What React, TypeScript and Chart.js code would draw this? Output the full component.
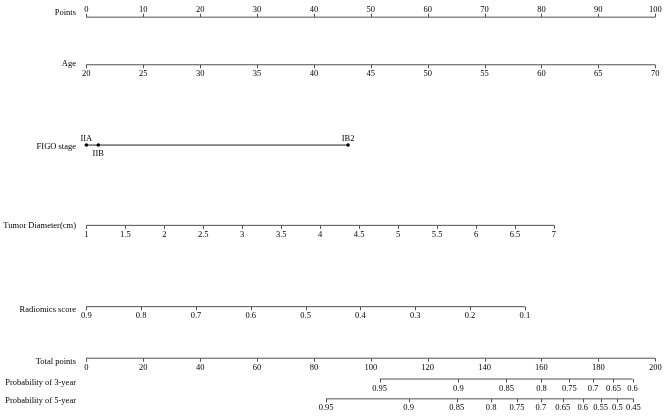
import React, { useEffect, useRef } from "react";
import { Chart, registerables } from "chart.js";

Chart.register(...registerables);

// ---------- data ----------
const pointsTicks = ["0", "10", "20", "30", "40", "50", "60", "70", "80", "90", "100"];
const pointsValues = [0, 10, 20, 30, 40, 50, 60, 70, 80, 90, 100];

const ageTicks = ["20", "25", "30", "35", "40", "45", "50", "55", "60", "65", "70"];
const agePoints = [0, 10, 20, 30, 40, 50, 60, 70, 80, 90, 100];

const figoCategories = ["IIA", "IIB", "IB2"];
const figoPoints = [0, 2.1, 46.0];

const tumorTicks = ["1", "1.5", "2", "2.5", "3", "3.5", "4", "4.5", "5", "5.5", "6", "6.5", "7"];
const tumorPoints = [0, 6.85, 13.7, 20.55, 27.4, 34.25, 41.1, 47.95, 54.8, 61.65, 68.5, 75.35, 82.2];

const radiomicsTicks = ["0.9", "0.8", "0.7", "0.6", "0.5", "0.4", "0.3", "0.2", "0.1"];
const radiomicsPoints = [0, 9.63, 19.27, 28.9, 38.54, 48.17, 57.81, 67.44, 77.08];

const totalTicks = ["0", "20", "40", "60", "80", "100", "120", "140", "160", "180", "200"];
const totalValues = [0, 20, 40, 60, 80, 100, 120, 140, 160, 180, 200];

const prob3Ticks = ["0.95", "0.9", "0.85", "0.8", "0.75", "0.7", "0.65", "0.6"];
const prob3Total = [103.1, 130.8, 147.7, 160.0, 169.8, 178.1, 185.3, 192.0];

const prob5Ticks = ["0.95", "0.9", "0.85", "0.8", "0.75", "0.7", "0.65", "0.6", "0.55", "0.5", "0.45"];
const prob5Total = [84.3, 113.3, 130.2, 142.3, 151.4, 159.8, 167.5, 174.5, 180.8, 186.7, 192.3];

// ---------- layout ----------
const W = 668;
const H = 419;
const FONT = '8.5px "Liberation Serif", "Times New Roman", serif';
const LINE_COLOR = "#505050";
const TITLE_X = 76;

type Row = {
  title: string;
  y: number;
  axis: "x" | "xt";
  values: number[];
  labels: string[];
  side: "above" | "below" | ("above" | "below")[];
  ticks: boolean;
  dots?: boolean;
  titleDy: number;
  color?: string;
};

const rows: Row[] = [
  { title: "Points", y: 15.5, axis: "x", values: pointsValues, labels: pointsTicks, side: "above", ticks: true, titleDy: -2.5 },
  { title: "Age", y: 63.5, axis: "x", values: agePoints, labels: ageTicks, side: "below", ticks: true, titleDy: 0 },
  { title: "FIGO stage", y: 144.5, axis: "x", values: figoPoints, labels: figoCategories, side: ["above", "below", "above"], ticks: false, dots: true, titleDy: 2.5, color: "#222" },
  { title: "Tumor Diameter(cm)", y: 225.5, axis: "x", values: tumorPoints, labels: tumorTicks, side: "below", ticks: true, titleDy: 0.5 },
  { title: "Radiomics score", y: 307.5, axis: "x", values: radiomicsPoints, labels: radiomicsTicks, side: "below", ticks: true, titleDy: 2.5 },
  { title: "Total points", y: 359.5, axis: "xt", values: totalValues, labels: totalTicks, side: "below", ticks: true, titleDy: 2 },
  { title: "Probability of 3-year", y: 380.5, axis: "xt", values: prob3Total, labels: prob3Ticks, side: "below", ticks: true, titleDy: 2 },
  { title: "Probability of 5-year", y: 400.5, axis: "xt", values: prob5Total, labels: prob5Ticks, side: "below", ticks: true, titleDy: 0 },
];

// Points 0 -> px 85, Points 100 -> px 657
const PX0 = 85;
const PX100 = 657;
const range = (100 * W) / (PX100 - PX0);
const xMin = (-PX0 * range) / W;
const xMax = xMin + range;

const nomogramPlugin = {
  id: "nomogramAxes",
  afterDatasetsDraw(chart: any) {
    const ctx = chart.ctx as CanvasRenderingContext2D;
    ctx.save();
    ctx.font = FONT;
    chart.data.datasets.forEach((ds: any, i: number) => {
      const meta = chart.getDatasetMeta(i);
      const row: Row = ds.row;
      meta.data.forEach((el: any, j: number) => {
        const x = el.x;
        const y = el.y;
        const side = Array.isArray(row.side) ? row.side[j] : row.side;
        if (row.ticks) {
          ctx.strokeStyle = LINE_COLOR;
          ctx.lineWidth = 1;
          ctx.beginPath();
          const xx = Math.round(x) + 0.5;
          ctx.moveTo(xx, y);
          ctx.lineTo(xx, side === "above" ? y - 3.5 : y + 3.5);
          ctx.stroke();
        }
        ctx.fillStyle = "#000";
        ctx.textAlign = "center";
        ctx.textBaseline = "alphabetic";
        let ty: number;
        if (row.dots) ty = side === "above" ? y - 4 : y + 10.5;
        else ty = side === "above" ? y - 5 : y + 11.5;
        ctx.fillText(row.labels[j], x, ty);
      });
      ctx.fillStyle = "#000";
      ctx.textAlign = "right";
      ctx.textBaseline = "middle";
      ctx.fillText(row.title, TITLE_X, row.y + row.titleDy);
    });
    ctx.restore();
  },
};

export default function App() {
  const canvasRef = useRef<HTMLCanvasElement | null>(null);

  useEffect(() => {
    document.body.style.margin = "0";
    const canvas = canvasRef.current;
    if (!canvas) return;
    const datasets = rows.map((row) => ({
      label: row.title,
      row,
      data: row.values.map((v) => ({ x: v, y: row.y })),
      xAxisID: row.axis,
      yAxisID: "y",
      borderColor: row.color || LINE_COLOR,
      borderWidth: 1,
      pointRadius: row.dots ? 1.8 : 0,
      pointBackgroundColor: "#000",
      pointBorderColor: "#000",
      pointBorderWidth: 0,
      pointHoverRadius: 0,
      tension: 0,
      fill: false,
    }));
    const chart = new Chart(canvas, {
      type: "line",
      data: { datasets: datasets as any },
      options: {
        animation: false,
        responsive: false,
        maintainAspectRatio: false,
        layout: { padding: 0 },
        events: [],
        plugins: { legend: { display: false }, tooltip: { enabled: false } },
        scales: {
          x: { type: "linear", min: xMin, max: xMax, display: false },
          xt: { type: "linear", min: xMin * 2, max: xMax * 2, display: false },
          y: { type: "linear", min: 0, max: H, reverse: true, display: false },
        },
      },
      plugins: [nomogramPlugin],
    });
    return () => chart.destroy();
  }, []);

  return (
    <div style={{ width: W, height: H, background: "#fff" }}>
      <canvas ref={canvasRef} width={W} height={H} style={{ display: "block" }} />
    </div>
  );
}
